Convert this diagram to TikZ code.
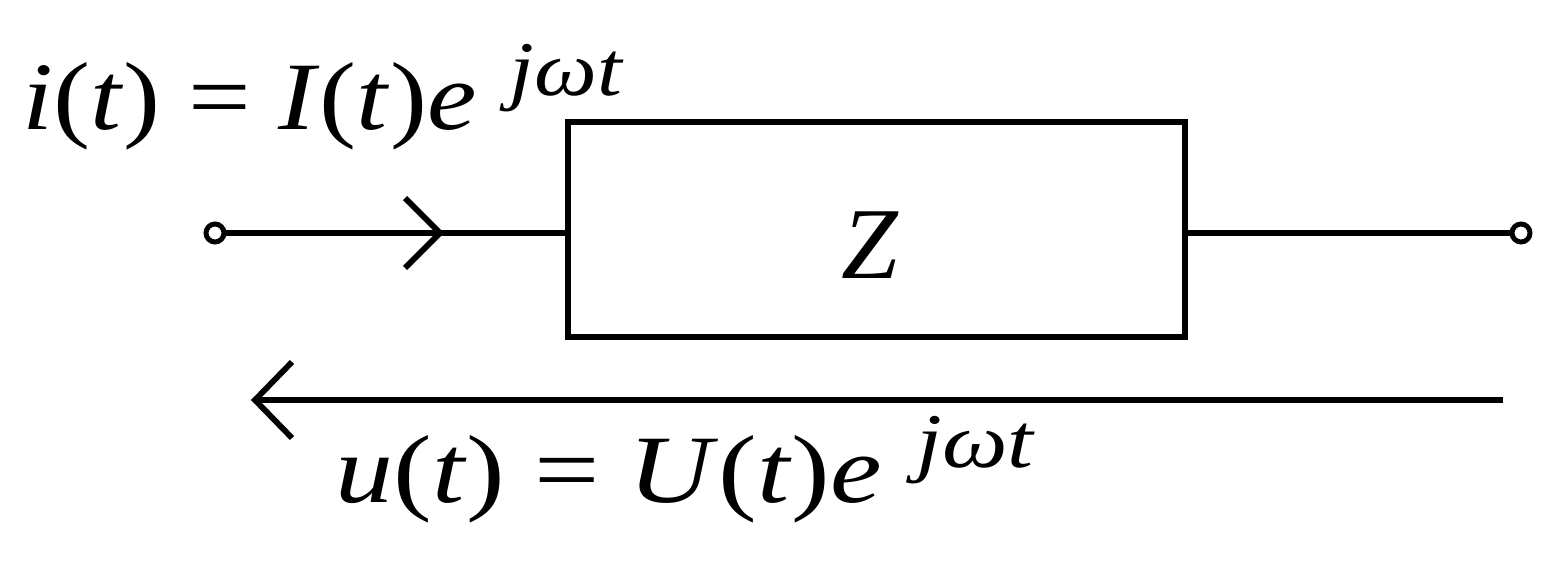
\documentclass[tikz,border=0pt]{standalone}
\usepackage{fontspec}
\setmainfont{Liberation Serif}
\newcommand{\expo}[1]{\kern0.3em\raisebox{0.36em}{\fontsize{44}{48}\selectfont\textit{#1}}}
\begin{document}
\begin{tikzpicture}[x=0.02cm,y=-0.02cm,
  wire/.style={line width=3.3pt},
  term/.style={circle,draw,line width=2.8pt,minimum size=0.36cm,inner sep=0pt,fill=white},
  lbl/.style={font=\fontsize{55}{60}\selectfont,inner sep=0pt,anchor=base west}]
\useasboundingbox (0,0) rectangle (1562,571);
\node[term] (t1) at (215,233) {};
\node[term] (t2) at (1521,233) {};
\node[draw,wire,minimum width=617*0.02cm,minimum height=215*0.02cm,inner sep=0pt] (z) at (876.5,229.5) {};
\node[font=\fontsize{58}{62}\selectfont] at (870,245) {\textit{Z}};
\draw[wire] (t1) -- (t1 -| z.west);
\draw[wire] (t2 -| z.east) -- (t2);
\coordinate (ai) at (440,233);
\draw[wire] (405,198) -- (ai) -- (405,268);
\coordinate (us) at (1503,400);
\coordinate (ue) at (255,400);
\draw[wire] (us) -- (ue);
\draw[wire] (292,362) -- (ue) -- (292,438);
\begin{scope}[xscale=1.15]
\node[lbl,transform shape] (il) at (22/1.15,130) {\textit{i}(\textit{t}) = \textit{I}(\textit{t})\textit{e}\expo{jωt}};
\end{scope}
\begin{scope}[xscale=1.2]
\node[lbl,transform shape] (ul) at (335/1.2,502) {\textit{u}(\textit{t}) = \textit{U}(\textit{t})\textit{e}\expo{jωt}};
\end{scope}
\end{tikzpicture}
\end{document}
